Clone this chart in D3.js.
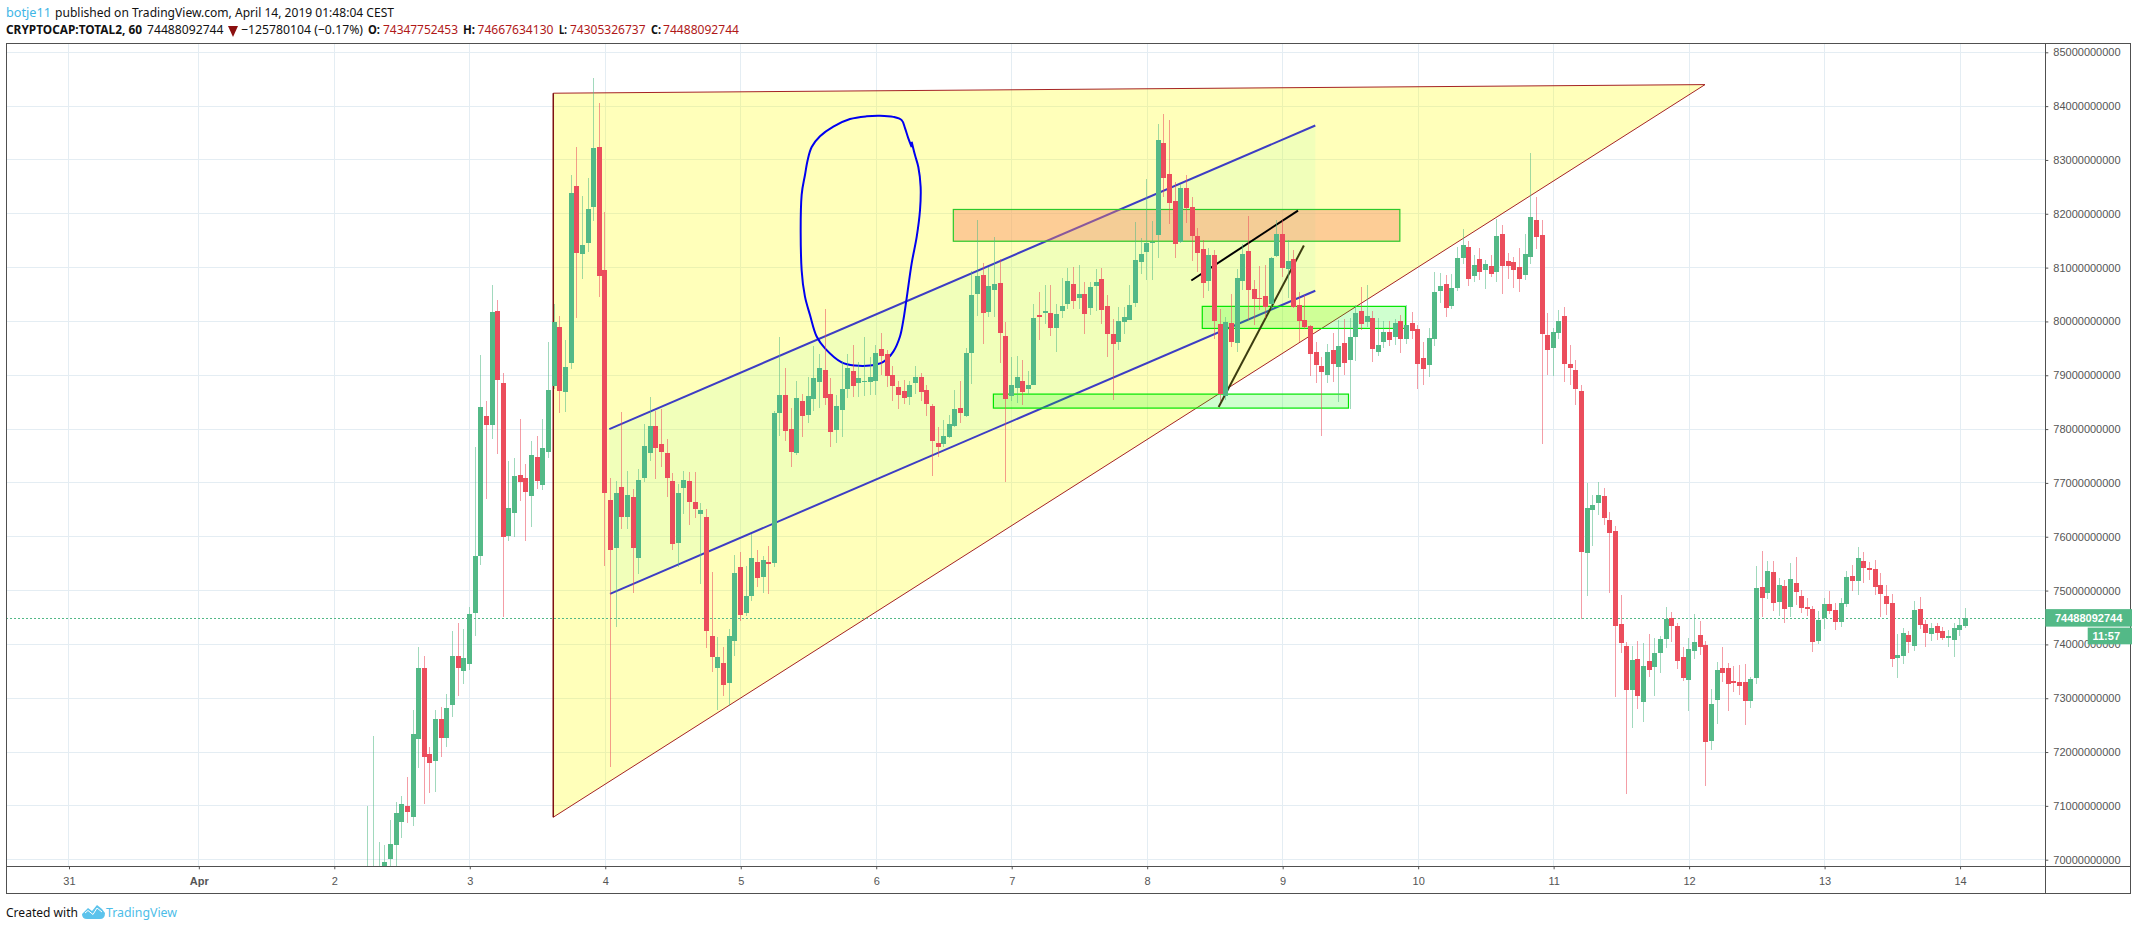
<!DOCTYPE html>
<html>
<head>
<meta charset="utf-8">
<script src="https://cdn.jsdelivr.net/npm/d3@7/dist/d3.min.js"></script>
<style>
html,body{margin:0;padding:0;background:#fff;overflow:hidden}
svg{display:block}
.hdr{font-family:"Noto Sans",sans-serif;font-size:13px;fill:#111}
.axis text{font-family:"Liberation Sans",Arial,sans-serif;font-size:11px;fill:#555}
.axis line{stroke:#555}
.axis path{display:none}
</style>
</head>
<body>
<svg id="chart" width="2137" height="930"></svg>
<script>
// Hourly bars, in billions of USD. Bar k sits at hour firstHour + k, counted from 2 Apr 00:00.
const firstHour = 6;
const opens = [
69.6,69.6,69.6,69.7,70.01,70.27,70.70,70.99,70.79,72.25,
73.57,71.96,71.84,72.62,72.27,72.88,73.79,73.51,73.63,74.59,
75.65,78.25,78.08,80.20,78.86,76.02,76.45,77.15,77.10,76.76,
77.49,76.97,77.58,78.80,79.90,78.68,79.22,82.51,81.25,81.46,
82.12,83.24,80.95,76.69,75.80,76.93,76.36,76.73,75.61,77.10,
77.56,78.06,77.73,77.56,77.04,75.89,76.91,77.04,76.65,76.43,
76.36,74.16,73.57,73.66,73.29,74.07,75.43,74.59,74.89,75.54,
75.26,75.54,75.52,78.29,78.64,78.01,77.56,78.53,78.27,78.55,
78.87,79.10,78.66,77.98,78.36,78.75,79.07,78.85,78.88,78.87,
78.90,79.48,79.40,79.00,78.79,78.70,78.59,78.85,78.96,78.72,
78.42,77.75,77.72,77.85,78.06,78.39,78.24,79.41,80.51,80.86,
80.17,80.58,80.71,79.73,78.61,78.76,78.89,78.74,78.82,80.12,
80.15,80.15,79.88,80.19,80.32,80.69,80.43,80.51,80.25,80.66,
80.79,80.28,79.76,79.62,79.99,80.02,80.34,81.10,81.29,81.46,
81.60,83.31,82.74,82.24,81.47,82.48,82.12,81.59,81.34,80.75,
81.23,79.95,78.61,79.97,79.60,80.75,81.31,80.60,80.43,80.47,
80.32,81.21,81.62,80.97,81.16,80.30,80.02,79.91,79.43,79.17,
79.00,79.47,79.15,79.60,79.28,79.71,80.19,79.99,80.06,79.43,
79.62,79.80,79.71,80.01,79.67,79.97,79.86,79.32,79.19,79.67,
80.56,80.69,80.28,80.62,81.18,81.38,80.84,81.16,80.95,81.03,
80.92,81.62,81.12,81.10,81.01,80.86,81.20,81.88,81.60,79.75,
79.50,79.78,80.10,79.21,79.10,78.71,75.70,76.50,76.63,76.76,
76.31,76.11,74.38,73.97,73.15,73.73,72.93,73.69,73.58,73.84,
74.10,74.49,74.34,73.76,73.34,73.88,74.17,73.99,72.20,72.97,
73.56,73.56,73.32,73.30,73.30,72.95,73.37,75.07,74.95,75.34,
74.79,75.08,74.69,75.14,74.90,74.69,74.66,74.06,74.49,74.75,
74.64,74.41,74.75,75.27,75.18,75.55,75.42,75.40,75.10,74.90,
74.77,73.75,73.78,74.17,73.97,74.66,74.38,74.19,74.34,74.25,
74.12,74.08,74.27,74.35];
const highs = [
71.0,72.29,70.32,70.28,70.73,71.08,71.18,71.53,72.79,73.96,
73.79,72.10,72.79,72.83,73.07,74.24,74.39,74.29,74.70,77.67,
79.38,78.53,80.68,80.40,79.05,77.41,77.47,78.19,77.36,77.78,
77.88,78.19,79.61,80.32,80.10,79.66,82.72,83.24,82.33,82.67,
84.52,84.06,82.04,77.10,77.04,78.32,77.23,76.88,77.26,78.10,
78.60,78.33,78.37,77.82,77.19,76.98,77.23,77.21,77.21,76.62,
76.52,75.35,74.13,73.96,74.28,75.67,75.72,75.46,76.05,75.76,
75.65,75.82,78.33,79.72,79.13,78.40,78.90,78.66,78.96,79.55,
79.39,80.23,78.94,78.64,79.27,79.40,79.57,79.25,79.72,79.33,
79.57,79.78,79.46,79.18,78.90,78.92,78.90,79.18,79.05,78.81,
78.47,78.03,78.17,78.26,78.72,78.89,79.50,80.93,81.88,81.08,
81.02,81.57,81.16,79.99,79.34,79.36,79.28,79.08,80.32,80.54,
80.67,80.67,80.33,80.80,80.99,81.01,81.05,80.73,80.73,80.97,
80.99,80.49,80.04,80.27,80.27,80.67,81.85,81.55,82.64,81.86,
83.67,83.85,83.74,82.59,82.56,82.72,82.31,81.73,81.51,81.36,
81.33,80.24,80.09,80.51,80.97,81.44,81.96,80.77,81.03,81.05,
81.20,81.88,81.88,81.51,81.33,80.54,80.49,79.93,79.62,79.34,
79.59,79.78,80.02,80.04,80.06,80.30,80.64,80.67,80.19,80.06,
80.01,80.01,80.04,80.12,80.30,80.17,79.93,79.62,79.88,80.92,
80.90,80.86,80.88,81.38,81.72,81.49,81.23,81.36,81.14,81.23,
81.90,81.79,81.27,81.20,81.36,81.62,83.13,82.31,81.88,80.15,
79.88,80.21,80.27,79.56,79.28,78.81,76.99,76.77,77.02,76.90,
76.46,76.20,74.92,74.04,73.97,74.06,74.02,74.19,74.12,74.15,
74.69,74.60,74.39,73.95,74.12,74.56,74.43,74.06,73.17,73.67,
73.95,73.65,73.60,73.62,73.63,73.40,75.46,75.73,75.55,75.55,
75.23,75.19,75.51,75.62,75.01,74.86,74.71,74.62,74.86,74.99,
74.77,74.86,75.36,75.47,75.81,75.72,75.53,75.57,75.33,75.10,
74.93,74.19,74.30,74.25,74.80,74.88,74.45,74.40,74.40,74.32,
74.27,74.40,74.48,74.67];
const lows = [
69.5,69.5,69.5,69.5,69.86,69.89,70.40,70.69,70.63,71.71,
71.03,71.23,71.25,71.90,72.09,72.66,73.05,73.27,73.53,74.16,
75.48,76.71,77.82,77.54,74.50,75.93,76.00,76.67,75.93,76.19,
76.89,76.87,77.47,78.75,78.29,78.31,79.11,80.07,80.79,81.29,
81.86,80.46,75.46,71.72,74.33,76.15,76.15,74.96,75.30,77.02,
77.41,77.08,77.30,76.73,75.76,75.44,76.43,76.21,76.34,75.13,
73.94,73.48,72.79,73.05,72.85,73.79,74.43,74.52,74.81,75.07,
74.96,74.94,75.43,77.87,77.78,77.29,77.51,77.86,78.12,78.33,
78.39,78.45,77.67,77.75,77.86,78.57,78.59,78.60,78.62,78.64,
78.64,79.01,78.79,78.53,78.38,78.46,78.44,78.66,78.53,78.25,
77.12,77.48,77.67,77.83,78.04,78.11,78.23,78.84,80.10,79.58,
80.08,80.09,79.23,77.02,78.52,78.48,78.45,78.63,78.81,79.65,
79.95,79.73,79.43,80.06,80.23,80.23,80.23,79.76,80.12,80.19,
79.95,79.34,78.54,79.47,79.76,80.02,80.27,80.88,80.77,80.77,
81.18,82.31,81.81,81.18,81.45,81.82,81.12,80.92,80.43,80.56,
79.67,78.52,78.54,79.52,79.43,80.58,80.02,79.93,80.21,80.06,
80.24,81.20,80.83,80.43,80.25,79.62,79.86,78.98,78.85,77.87,
78.85,78.87,78.51,79.00,78.38,79.27,79.84,79.90,79.24,79.36,
79.50,79.54,79.56,79.41,79.58,79.67,78.74,78.82,78.97,79.54,
80.34,80.08,80.23,80.56,81.07,80.66,80.73,80.77,80.60,80.82,
80.73,80.51,80.79,80.62,80.54,80.77,81.07,81.34,77.72,79.00,
78.98,79.67,78.87,78.82,78.45,74.48,74.89,75.83,76.40,76.22,
74.95,73.02,73.84,71.22,72.45,72.80,72.56,73.39,73.04,73.47,
73.93,74.04,73.54,73.32,72.76,73.73,73.80,71.37,72.04,72.52,
73.30,72.76,73.11,73.06,72.50,72.82,73.26,74.50,74.84,74.62,
74.53,74.40,74.51,74.73,74.58,74.53,73.86,74.01,74.28,74.56,
74.27,74.32,74.69,74.99,74.92,75.14,75.20,74.92,74.51,74.54,
73.58,73.37,73.63,73.84,73.88,74.28,73.95,74.06,74.08,74.08,
73.95,73.76,74.15,74.31];
const closes = [
69.8,69.8,69.8,69.96,70.30,70.86,71.03,70.88,72.33,73.57,
71.91,71.79,72.61,72.27,72.81,73.79,73.57,73.74,74.57,75.65,
78.41,78.08,80.18,78.92,76.00,76.54,77.12,77.02,76.84,77.52,
77.04,77.64,78.73,79.99,78.70,79.16,82.38,81.27,81.42,82.09,
83.22,80.84,76.82,75.76,76.82,76.36,76.78,75.80,77.06,77.69,
78.06,77.64,77.58,77.10,75.87,76.82,77.06,76.65,76.52,76.49,
74.24,73.76,73.76,73.24,74.15,75.32,74.54,74.89,75.61,75.24,
75.56,75.50,78.29,78.64,77.96,77.58,78.57,78.25,78.62,78.94,
79.13,78.57,77.94,78.42,78.75,79.13,78.80,78.94,78.90,78.96,
79.42,79.35,78.98,78.80,78.64,78.57,78.81,78.96,78.68,78.46,
77.77,77.67,77.87,78.09,78.37,78.30,79.41,80.49,80.84,80.15,
80.66,80.69,79.78,78.56,78.82,78.97,78.69,78.82,80.06,80.08,
80.19,79.88,80.14,80.28,80.75,80.38,80.51,80.14,80.64,80.73,
80.21,79.76,79.58,80.01,80.08,80.30,81.14,81.25,81.46,81.48,
83.37,82.66,82.20,81.44,82.48,82.11,81.59,81.27,80.71,81.23,
80.01,78.65,79.99,79.62,80.80,81.25,80.58,80.41,80.41,80.27,
81.18,81.62,80.99,81.12,80.27,80.01,79.89,79.39,79.19,79.06,
79.43,79.21,79.54,79.23,79.71,80.15,79.95,80.10,79.49,79.56,
79.80,79.65,79.97,79.67,79.93,79.82,79.21,79.11,79.69,80.54,
80.66,80.25,80.62,81.18,81.42,80.79,81.05,80.92,81.07,80.88,
81.59,81.03,81.03,80.95,80.79,81.25,81.94,81.57,79.76,79.47,
79.80,80.01,79.21,79.13,78.74,75.72,76.53,76.59,76.77,76.35,
76.07,74.34,74.02,73.15,73.71,73.04,73.60,73.52,73.84,74.10,
74.47,74.34,73.69,73.37,73.91,74.04,73.95,72.19,72.89,73.52,
73.47,73.26,73.28,73.23,72.95,73.36,75.05,74.86,75.36,74.77,
75.10,74.66,75.21,74.97,74.67,74.66,74.04,74.45,74.75,74.62,
74.41,74.77,75.25,75.18,75.60,75.42,75.38,75.07,74.93,74.75,
73.73,73.80,74.21,74.04,74.64,74.36,74.21,74.30,74.21,74.12,
74.15,74.30,74.36,74.49];

const priceTicks = [70,71,72,73,74,75,76,77,78,79,80,81,82,83,84,85];
const dayTickHours = [-47,-24,0,24,48,72,96,120,144,168,192,216,240,264,288];
const dayTickLabels = ["31","Apr","2","3","4","5","6","7","8","9","10","11","12","13","14"];
const lastPrice = 74.488092744;
const lastPriceText = "74488092744";
const countdownText = "11:57";

// Drawings, as [hour, price]
const triangleDrawing = [[38.94,84.24],[242.96,84.40],[38.94,70.79]];
const channelUpper = [[48.86,78.00],[173.92,83.64]];
const channelLower = [[48.98,74.94],[173.92,80.57]];
const orangeZone = {h0:109.8,h1:188.9,p0:82.08,p1:81.49};
const greenZones = [{h0:153.9,h1:189.9,p0:80.28,p1:79.87},{h0:116.9,h1:179.8,p0:78.65,p1:78.39}];
const blackTrend = [[151.96,80.76],[170.86,82.06]];
const oliveTrend = [[156.8,78.41],[171.9,81.41]];
const freehand = [[102.42,83.24],[101.83,83.40],[101.24,83.59],[100.65,83.74],[99.17,83.80],[96.81,83.82],[94.45,83.81],[91.50,83.76],[88.54,83.62],[86.18,83.44],[84.71,83.24],[84.00,83.00],[83.52,82.72],[82.93,82.35],[82.93,80.95],[83.52,80.46],[84.41,80.12],[85.59,79.72],[87.07,79.50],[90.02,79.24],[92.38,79.18],[95.04,79.18],[97.40,79.25],[99.17,79.44],[100.35,79.72],[100.94,80.02],[101.53,80.43],[102.42,81.08],[103.31,81.57],[103.90,82.07],[104.01,82.50],[103.60,82.87],[103.01,83.09],[102.42,83.34]];

const up="#53b987", down="#eb4d5c", grid="#e4edf3", frame="#505050";
const L=6, R=2045.3, T=43.3, B=866.3, OR=2130.3, OB=893.3;

const svg=d3.select("#chart");
const x=d3.scaleLinear().domain([-58,303]).range([6.09,2043.94]);
const y=d3.scaleLinear().domain([70,85]).range([859.7,52.3]);
const tickShift=0.8;
const pxX=d=>x(d[0]), pxY=d=>y(d[1]);

svg.append("defs").append("clipPath").attr("id","plot").append("rect")
  .attr("x",L).attr("y",T).attr("width",R-L).attr("height",B-T);

// Grid
const g=svg.append("g").attr("shape-rendering","crispEdges").attr("stroke",grid);
g.selectAll("line.h").data(priceTicks).join("line").attr("class","h")
  .attr("x1",L).attr("x2",R).attr("y1",d=>y(d)).attr("y2",d=>y(d));
g.selectAll("line.v").data(dayTickHours).join("line").attr("class","v")
  .attr("x1",d=>x(d)+tickShift).attr("x2",d=>x(d)+tickShift).attr("y1",T).attr("y2",B);

const plot=svg.append("g").attr("clip-path","url(#plot)");
const lineGen=d3.line().x(pxX).y(pxY);

// Triangle
plot.append("path").attr("d",lineGen(triangleDrawing)+"Z")
  .attr("fill","rgba(255,255,0,0.27)").attr("stroke","#a52424").attr("stroke-width",1);
plot.append("path").attr("d",lineGen([triangleDrawing[0],triangleDrawing[2]]))
  .attr("fill","none").attr("stroke","#7d1212").attr("stroke-width",1.4);

// Channel
plot.append("path").attr("d",lineGen([...channelUpper,...channelLower.slice().reverse()])+"Z")
  .attr("fill","rgb(120,255,191)").attr("fill-opacity",0.1);
[channelUpper,channelLower].forEach(c=>plot.append("path").attr("d",lineGen(c))
  .attr("fill","none").attr("stroke","#3d3dc4").attr("stroke-width",2));

// Zones
const zoneRect=(z,fill,stroke)=>plot.append("rect")
  .attr("x",x(z.h0)).attr("y",y(z.p0)).attr("width",x(z.h1)-x(z.h0)).attr("height",y(z.p1)-y(z.p0))
  .attr("fill",fill).attr("stroke",stroke).attr("stroke-width",1.2);
zoneRect(orangeZone,"rgba(250,130,98,0.4)","#2bc92b");
greenZones.forEach(z=>zoneRect(z,"rgba(0,255,0,0.19)","#00e600"));

// Trend lines and freehand
plot.append("path").attr("d",lineGen(blackTrend)).attr("stroke","#000").attr("stroke-width",2).attr("fill","none");
plot.append("path").attr("d",lineGen(oliveTrend)).attr("stroke","#3c3c10").attr("stroke-width",2).attr("fill","none");
plot.append("path").attr("d",d3.line().x(pxX).y(pxY).curve(d3.curveCatmullRom)(freehand))
  .attr("fill","none").attr("stroke","#0000f0").attr("stroke-width",2).attr("stroke-linejoin","round");

// Last price line
plot.append("line").attr("x1",L).attr("x2",R).attr("y1",y(lastPrice)).attr("y2",y(lastPrice))
  .attr("stroke",up).attr("stroke-width",1).attr("stroke-dasharray","2,2").attr("shape-rendering","crispEdges");

// Candles
const bars=opens.map((o,k)=>({h:firstHour+k,o,hi:highs[k],lo:lows[k],c:closes[k]}));
const candle=plot.append("g").attr("shape-rendering","crispEdges").selectAll("g").data(bars).join("g");
candle.append("line")
  .attr("x1",d=>Math.round(x(d.h))+0.5).attr("x2",d=>Math.round(x(d.h))+0.5)
  .attr("y1",d=>y(d.hi)).attr("y2",d=>y(d.lo))
  .attr("stroke",d=>d.c>=d.o?up:down).attr("stroke-opacity",0.55);
candle.append("rect")
  .attr("x",d=>Math.round(x(d.h))-2).attr("width",5)
  .attr("y",d=>y(Math.max(d.o,d.c)))
  .attr("height",d=>Math.max(1,Math.abs(y(d.o)-y(d.c))))
  .attr("fill",d=>d.c>=d.o?up:down);

// Axes
const yAxis=d3.axisRight(y).tickValues(priceTicks).tickSize(3).tickPadding(5)
  .tickFormat(d=>String(d)+"000000000");
svg.append("g").attr("class","axis").attr("transform",`translate(${R},0)`).call(yAxis);
const xAxis=d3.axisBottom(x).tickValues(dayTickHours).tickSize(3).tickPadding(8)
  .tickFormat(d=>dayTickLabels[dayTickHours.indexOf(d)]);
svg.append("g").attr("class","axis").attr("transform",`translate(${tickShift},${B})`).call(xAxis)
  .selectAll("text").attr("font-weight",d=>d===-24?"bold":null);

// Frame
const fr=svg.append("g").attr("shape-rendering","crispEdges").attr("stroke",frame).attr("fill","none");
fr.append("rect").attr("x",L).attr("y",T).attr("width",OR-L).attr("height",OB-T);
fr.append("line").attr("x1",R).attr("x2",R).attr("y1",T).attr("y2",OB);
fr.append("line").attr("x1",L).attr("x2",OR).attr("y1",B).attr("y2",B);

// Last price tags
const tagY=y(lastPrice);
svg.append("rect").attr("x",R).attr("y",tagY-9).attr("width",2132-R).attr("height",17.5).attr("fill",up);
svg.append("text").attr("x",2055).attr("y",tagY+4).text(lastPriceText)
  .attr("font-family","Liberation Sans").attr("font-size",11).attr("font-weight","bold").attr("fill","#fff");
svg.append("rect").attr("x",2087.7).attr("y",tagY+9.5).attr("width",44.3).attr("height",16.7).attr("fill",up);
svg.append("text").attr("x",2120).attr("y",tagY+22).attr("text-anchor","end").text(countdownText)
  .attr("font-family","Liberation Sans").attr("font-size",11).attr("font-weight","bold").attr("fill","#fff");

// Header
function hdr(txt,x0,x1,yy,opt={}){
  svg.append("text").attr("class","hdr").attr("x",x0).attr("y",yy)
    .attr("textLength",x1-x0).attr("lengthAdjust","spacingAndGlyphs")
    .attr("font-weight",opt.bold?"bold":null).style("fill",opt.fill||null).text(txt);
}
const red="#b01818", link="#41b6e6";
hdr("botje11",6,51,17,{fill:link});
hdr("published on TradingView.com, April 14, 2019 01:48:04 CEST",55,394,17);
hdr("CRYPTOCAP:TOTAL2, 60",6,142,34,{bold:true});
hdr("74488092744",147,223.5,34);
svg.append("path").attr("d","M228 26 L238 26 L233 37 Z").attr("fill","#8b1010");
hdr("\u2212125780104 (\u22120.17%)",241,363,34);
hdr("O:",368,380,34,{bold:true}); hdr("74347752453",383,458,34,{fill:red});
hdr("H:",463,475,34,{bold:true}); hdr("74667634130",477.5,553.5,34,{fill:red});
hdr("L:",559,567,34,{bold:true}); hdr("74305326737",570,645.5,34,{fill:red});
hdr("C:",651,661,34,{bold:true}); hdr("74488092744",663,739,34,{fill:red});

// Footer
hdr("Created with",6,78,917);
svg.append("path").attr("d","M82 914 L88 908 L92 911 L97 905 L102 909 L105 913 Q105 919 100 919 L87 919 Q82 919 82 914Z").attr("fill","#5cc3ec");
svg.append("path").attr("d","M85 913 L88 910.5 L93 914.5 L97 908 L102 912").attr("fill","none").attr("stroke","#fff").attr("stroke-width",1);
hdr("TradingView",106,177,917,{fill:"#4dbde8"});
</script>
</body>
</html>
